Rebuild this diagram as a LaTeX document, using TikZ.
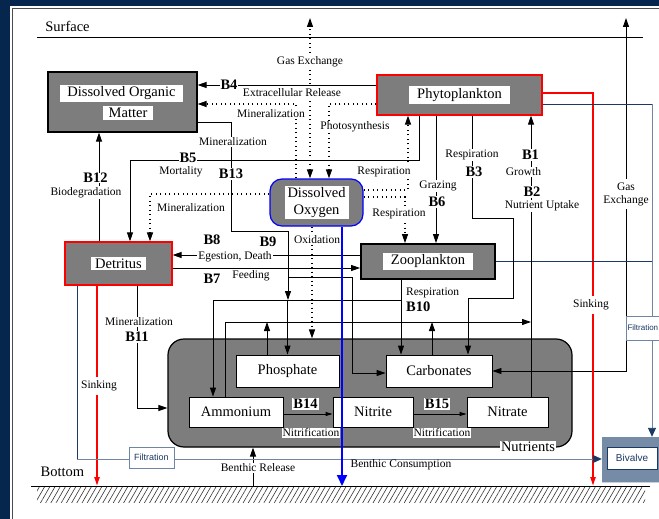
\documentclass[tikz,border=0pt]{standalone}
\usepackage{fontspec}
\setmainfont{Liberation Serif}
\setsansfont{Liberation Sans}
\usepackage{tikz}
\usetikzlibrary{arrows.meta,positioning,patterns.meta}
\definecolor{qnavy}{RGB}{6,38,78}
\definecolor{qline}{RGB}{28,56,100}
\definecolor{qsteel}{RGB}{110,134,164}
\definecolor{qred}{RGB}{255,0,0}
\definecolor{qblue}{RGB}{0,0,255}

\begin{document}
\begin{tikzpicture}[
  x=1pt, y=-1pt,
  font=\fontsize{11.5pt}{13pt}\selectfont,
  >={Triangle[length=9pt,width=6pt]},
  big/.style={font=\fontsize{14.5pt}{17pt}\selectfont},
  bnum/.style={font=\fontsize{14.5pt}{16pt}\selectfont\bfseries,fill=white,inner sep=1pt},
  lbl/.style={fill=white,inner sep=0.8pt},
  pool/.style={draw,line width=1.2pt,inner sep=0pt,preaction={fill=black!42},
    pattern={Dots[distance=2pt,radius=0.55pt]},pattern color=black!80},
  ptxt/.style={big,fill=white,inner xsep=7pt,inner ysep=2pt,align=center},
  salt/.style={draw,line width=0.9pt,fill=white,big,inner sep=0pt},
  flow/.style={->,line width=0.9pt},
  dflow/.style={flow,line width=1.1pt,dash pattern=on 1.1pt off 3.4pt},
  sink/.style={-{Triangle[length=9pt,width=5pt]},draw=qred,line width=2pt},
  fline/.style={draw=qline,line width=0.9pt},
  ftip/.style={-{Triangle[length=9pt,width=8pt,color=qline]}},
  filt/.style={draw=qsteel,line width=0.8pt,fill=white,text=qline,inner sep=0pt,
    font=\sffamily\fontsize{9pt}{10pt}\selectfont,minimum width=45pt,minimum height=21pt}
]
\useasboundingbox (0,0) rectangle (659,519);
\clip (0,0) rectangle (659,519);
\fill[qnavy] (0,0) rectangle (659,519);
\fill[white] (10,6) rectangle (659,519);
\draw[black!70,line width=1pt] (12.5,530) |- (670,8.5);

% surface and bottom
\coordinate (sfL) at (37,38);
\coordinate (sfR) at (643,38);
\coordinate (btL) at (31,486);
\coordinate (btR) at (650,486);
\draw[line width=1pt] (sfL) -- (sfR);
\node[big] (sfc) at (67.5,26) {Surface};
\fill[pattern={Lines[angle=60,distance=4.5pt,line width=0.6pt]},pattern color=black!80] (37,487) rectangle (645,502);
\draw[line width=1pt] (btL) -- (btR);
\node[big] (btm) at (62.5,472) {Bottom};

% pools
\node[pool,minimum width=149pt,minimum height=60pt] (dom) at (122.5,102) {};
\node[ptxt] (domA) at (121.5,93.5) {Dissolved Organic};
\node[ptxt,inner xsep=6pt] (domB) at (128,113) {Matter};
\node[pool,draw=qred,minimum width=165pt,minimum height=40pt] (phy) at (459.5,95) {};
\node[ptxt,inner xsep=8pt] (phyT) at (phy) {Phytoplankton};
\node[pool,draw=qblue,rounded corners=12pt,minimum width=93pt,minimum height=47pt] (dox) at (316.5,202.5) {};
\node[ptxt,inner xsep=3pt,inner ysep=1pt] (doxT) at (dox) {Dissolved\\Oxygen};
\node[pool,draw=qred,minimum width=107pt,minimum height=43pt] (det) at (118.5,263.5) {};
\node[ptxt,inner xsep=4pt] (detT) at (det) {Detritus};
\node[pool,line width=1.8pt,minimum width=134pt,minimum height=35pt] (zoo) at (428,261.5) {};
\node[ptxt,inner xsep=8pt] (zooT) at (zoo) {Zooplankton};

% nutrients
\node[pool,rounded corners=16pt,minimum width=404pt,minimum height=108pt] (nut) at (370,393) {};
\node[salt,minimum width=103pt,minimum height=32pt] (pho) at (287.5,371) {Phosphate};
\node[salt,minimum width=106pt,minimum height=32pt] (car) at (439,371) {Carbonates};
\node[salt,minimum width=94pt,minimum height=30pt] (amm) at (236,412) {Ammonium};
\node[salt,minimum width=80pt,minimum height=30pt] (nti) at (373,412) {Nitrite};
\node[salt,minimum width=81pt,minimum height=30pt] (nta) at (507.5,412) {Nitrate};
\node[big,fill=white,inner sep=1pt] (nutT) at (528,447) {Nutrients};

% bivalve
\node[preaction={fill=qsteel!75},pattern={Dots[distance=2pt,radius=0.55pt]},pattern color=qline,
      minimum width=58pt,minimum height=45pt,inner sep=0pt] (bivO) at (631,459.5) {};
\node[draw=qline,line width=1pt,fill=white,text=qline,inner sep=0pt,
      font=\sffamily\fontsize{10pt}{11pt}\selectfont,
      minimum width=50pt,minimum height=22pt] (biv) at (632,458) {Bivalve};

% free ends and junctions
\coordinate (gasT) at (310,18);
\coordinate (gasR) at (626,18);
\coordinate (sinkP) at (593,486);
\coordinate (sinkD) at (97,486);
\coordinate (doB) at (342,486);
\coordinate (benR) at (253,486);
\coordinate (busL) at (213,300);
\coordinate (busR) at (401,300);
\coordinate (upt) at (531,322);
\coordinate (b13j) at (288,277);
\coordinate (fR) at (652,104);
\coordinate (fD) at (77,459);

% oxygen (dotted)
\draw[dflow,<->] (dox.north -| gasT) -- (gasT);
\draw[dflow] (dox.north -| 296,0) |- (dom.east |- 0,104);
\draw[dflow] (phy.west |- 0,104) -| (dox.north -| 329,0);
\draw[dflow] (dox.east |- 0,190) -| (phy.south -| 408,0);
\draw[dflow] (dox.east |- 0,197) -| (zoo.north -| 405,0);
\draw[dflow] (dox.west |- 0,194) -| (det.north -| 150,0);
\draw[dflow] (dox.south -| 312,0) -- (nut.north -| 312,0);

% exchanges with surface and bottom
\draw[flow,<->] (car.east |- 0,371) -| (gasR);
\draw[sink] (phy.east |- 0,93) -| (sinkP);
\draw[sink] (det.south -| sinkD) -- (sinkD);
\draw[flow] (benR) -- (benR |- nut.south);

% filtration
\draw[fline] (zoo.east) -- (zoo.east -| fR);
\draw[fline] (phy.east |- fR) -- (fR);
\draw[fline,draw=qsteel,ftip] (fR) -- (bivO.north -| fR);
\draw[fline] (det.south -| fD) -- (fD);
\draw[fline,draw=qsteel,ftip] (fD) -- (bivO.west |- fD);

% organic matter fluxes
\draw[flow] (phy.west |- 0,85) -- (dom.east |- 0,85);
\draw[flow] (det.north -| 99,0) -- (dom.south -| 99,0);
\draw[flow] (phy.south -| 419,0) -- (419,160) -| (det.north -| 130,0);
\draw[flow] (dom.east |- 0,122) -| (231,231) -| (busL -| 288,0);
\draw[flow] (b13j) -- (352,277) |- (car.west |- 0,373);
\draw[flow] (zoo.west |- 0,255) -- (det.east |- 0,255);
\draw[flow] (det.east |- 0,268) -- (zoo.west |- 0,268);
\draw[flow] (det.south -| 137,0) |- (nut.west |- 0,408);
\draw[flow] (phy.south -| 436,0) -- (zoo.north -| 436,0);
\draw[flow] (phy.south -| 472,0) |- (513,218) |- (468,298) -- (car.north -| 468,0);

% release to nutrients
\draw[line width=0.9pt] (busL) -- (busR);
\draw[flow] (busL) -- (busL |- amm.north);
\draw[flow] (busL -| pho.north) -- (pho.north);
\draw[flow] (zoo.south -| busR) -- (busR |- car.north);

% uptake
\draw[flow] (amm.north -| 225,0) |- (upt);
\draw[flow] (pho.north -| 267,0) -- (upt -| 267,0);
\draw[flow] (car.north -| 432,0) -- (upt -| 432,0);
\draw[flow] (nta.north -| upt) -- (phy.south -| upt);

% nitrification
\draw[flow,>={Triangle[length=7pt,width=4pt]}] (amm.east |- 0,414) -- (nti.west |- 0,414);
\draw[flow,>={Triangle[length=7pt,width=4pt]}] (nti.east |- 0,414) -- (nta.west |- 0,414);

% dissolved oxygen to the bottom
\draw[-{Triangle[length=11pt,width=10pt]},draw=qblue,line width=1.8pt] (dox.south -| doB) -- (doB);

% labels
\node[lbl] (lGas) at (310,62) {Gas Exchange};
\node[bnum] (lB4) at (229,85) {B4};
\node[lbl] (lExt) at (292,93) {Extracellular Release};
\node[lbl] (lMinA) at (271,114) {Mineralization};
\node[lbl] (lPhs) at (355,127) {Photosynthesis};
\node[lbl] (lMinB) at (233,142) {Mineralization};
\node[bnum] (lB5) at (188,158) {B5};
\node[inner sep=0pt] (lMort) at (181,172) {Mortality};
\node[bnum] (lB13) at (231,174) {B13};
\node[bnum,inner ysep=0pt] (lB12) at (95.5,178) {B12};
\node[lbl] (lBio) at (86,192.5) {Biodegradation};
\node[lbl] (lResA) at (384,172) {Respiration};
\node[lbl] (lResB) at (472,155) {Respiration};
\node[bnum] (lB3) at (474,172) {B3};
\node[bnum] (lB1) at (530.5,155) {B1};
\node[lbl] (lGro) at (523.5,172) {Growth};
\node[bnum] (lB2) at (532,192) {B2};
\node[lbl] (lUpt) at (542,206) {Nutrient Uptake};
\node[lbl] (lGraz) at (438,186) {Grazing};
\node[bnum] (lB6) at (437,202) {B6};
\node[lbl,align=center,inner ysep=3pt,font=\fontsize{11.5pt}{13pt}\selectfont] (lGasR) at (626,194) {Gas\\Exchange};
\node[lbl] (lMinC) at (191,208) {Mineralization};
\node[lbl] (lResC) at (399,214) {Respiration};
\node[lbl,inner sep=0.3pt] (lOxi) at (317,240) {Oxidation};
\node[bnum] (lB8) at (212,240) {B8};
\node[bnum] (lB9) at (268,242) {B9};
\node[lbl] (lEge) at (235,257) {Egestion, Death};
\node[bnum,fill=none] (lB7) at (212,279) {B7};
\node[inner sep=0pt] (lFeed) at (251,276) {Feeding};
\node[anchor=west,inner sep=0pt] (lResD) at (406,293) {Respiration};
\node[anchor=west,bnum,fill=none,inner sep=0pt] (lB10) at (406,307) {B10};
\node[lbl,inner ysep=4pt] (lSinkP) at (591,305) {Sinking};
\node[lbl,inner ysep=4pt] (lSinkD) at (99,386) {Sinking};
\node[lbl] (lMinD) at (139,322) {Mineralization};
\node[bnum] (lB11) at (137,337) {B11};
\node[bnum] (lB14) at (305.5,404) {B14};
\node[bnum] (lB15) at (437,404) {B15};
\node[lbl] (lNitA) at (311,433) {Nitrification};
\node[lbl] (lNitB) at (442,433) {Nitrification};
\node[lbl] (lBen) at (258,468) {Benthic Release};
\node[inner sep=0pt] (lCon) at (401,465) {Benthic Consumption};
\node[filt] (fltD) at (151.5,457.5) {Filtration};
\node[filt,minimum width=52pt,minimum height=24pt,text width=49pt,inner xsep=1.5pt,align=left,
      font=\sffamily\fontsize{8pt}{9pt}\selectfont] (fltP) at (652,328) {Filtration};
\end{tikzpicture}
\end{document}
